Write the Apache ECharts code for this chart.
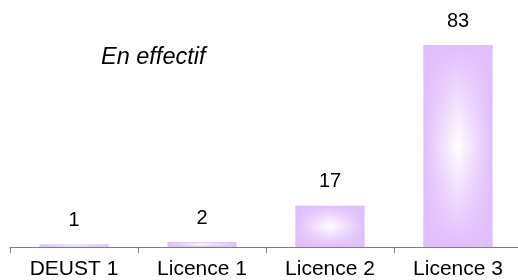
<!DOCTYPE html>
<html>
<head>
<meta charset="utf-8">
<script src="https://cdn.jsdelivr.net/npm/echarts@6/dist/echarts.min.js"></script>
<style>
  html, body { margin: 0; padding: 0; background: #fff; }
  #chart { width: 518px; height: 280px; }
</style>
</head>
<body>
<div id="chart"></div>
<script>
var categories = ['DEUST 1', 'Licence 1', 'Licence 2', 'Licence 3'];
var effectifs = [1, 2, 17, 83];
var subtitle = 'En effectif';

/* bars with a "path" style gradient: horizontal base + vertical overlay */
function barChart(domId) {
    var chartInstance, option, lilac, font;

    chartInstance = echarts.init(document.getElementById(domId));
    lilac = '#e1bdfc';
    font = '"Liberation Sans", Arial, Helvetica, sans-serif';

    option = {
        animation: false,
        grid: {
            left: 10,
            right: -4,
            top: 45,
            bottom: 33,
            containLabel: false,
            outerBoundsMode: 'none'
        },
        graphic: [
            {
                type: 'text',
                left: 101,
                top: 46,
                style: {
                    text: subtitle,
                    font: 'italic 23.5px ' + font,
                    fill: '#000'
                }
            }
        ],
        xAxis: {
            type: 'category',
            data: categories,
            axisLine: { show: true, lineStyle: { color: '#7f7f7f', width: 1 } },
            axisTick: { show: true, interval: 0, length: 6, lineStyle: { color: '#7f7f7f', width: 1 } },
            axisLabel: {
                color: '#000',
                fontSize: 21,
                fontFamily: font,
                margin: 12
            }
        },
        yAxis: {
            type: 'value',
            min: 0,
            max: 83,
            show: false,
            splitLine: { show: false }
        },
        series: [
            {
                type: 'bar',
                data: effectifs,
                barWidth: 69,
                itemStyle: {
                    color: new echarts.graphic.LinearGradient(0, 0, 1, 0, [
                        { offset: 0, color: lilac },
                        { offset: 0.5, color: '#ffffff' },
                        { offset: 1, color: lilac }
                    ])
                },
                label: {
                    show: true,
                    position: 'top',
                    distance: 14,
                    color: '#000',
                    fontSize: 20,
                    fontFamily: font
                }
            },
            {
                type: 'bar',
                data: effectifs,
                barWidth: 69,
                barGap: '-100%',
                silent: true,
                itemStyle: {
                    color: new echarts.graphic.LinearGradient(0, 0, 0, 1, [
                        { offset: 0, color: 'rgba(225,189,252,1)' },
                        { offset: 0.5, color: 'rgba(225,189,252,0)' },
                        { offset: 1, color: 'rgba(225,189,252,1)' }
                    ])
                }
            }
        ]
    };
    chartInstance.setOption(option);
    return chartInstance;
}

barChart('chart');
</script>
</body>
</html>
